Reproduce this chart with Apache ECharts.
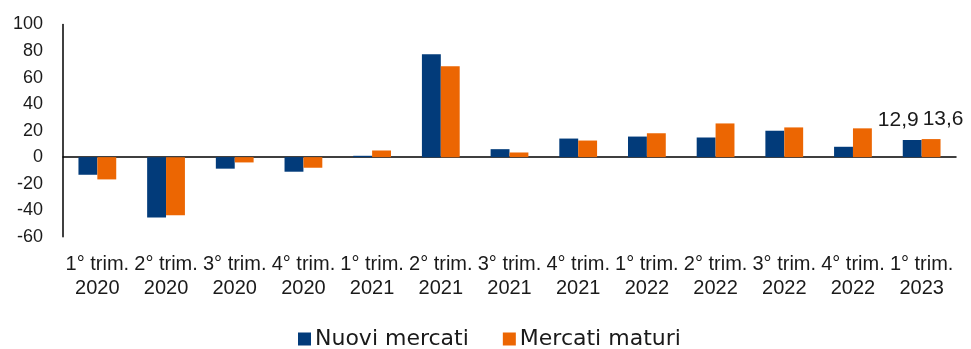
<!DOCTYPE html>
<html>
<head>
<meta charset="utf-8">
<script src="https://cdn.jsdelivr.net/npm/echarts@6/dist/echarts.min.js"></script>
<style>
html,body{margin:0;padding:0;background:#fff;}
#chart{width:971px;height:349px;}
</style>
</head>
<body>
<div id="chart"></div>
<script>
const categories = ["1° trim.\n2020","2° trim.\n2020","3° trim.\n2020","4° trim.\n2020","1° trim.\n2021","2° trim.\n2021","3° trim.\n2021","4° trim.\n2021","1° trim.\n2022","2° trim.\n2022","3° trim.\n2022","4° trim.\n2022","1° trim.\n2023"];
const nuoviMercati = [-13.3, -45.6, -8.7, -11, 1, 77.6, 6, 14, 15.5, 14.8, 19.9, 7.8, 12.9];
const mercatiMaturi = [-16.8, -43.8, -4, -8, 5, 68.6, 3.5, 12.5, 18, 25.4, 22.4, 21.7, 13.6];
const seriesNames = ["Nuovi mercati", "Mercati maturi"];
const yTicks = {min: -60, max: 100, interval: 20};
const labelIndex = 12;

const textColor = '#1a1a1a';
function build(values, offsetX) {
  return values.map((v, i) => i === labelIndex ? {
    value: v,
    label: {
      show: true, position: 'top', distance: 9, offset: [offsetX, 0],
      fontFamily: 'Liberation Sans', fontSize: 21, color: textColor,
      formatter: p => String(p.value).replace('.', ',')
    }
  } : v);
}

const chart = echarts.init(document.getElementById('chart'));
chart.setOption({
  animation: false,
  grid: {left: 63, right: 15, top: 24.5, bottom: 112.3, containLabel: false},
  legend: {
    left: 298, top: 328, padding: 0,
    itemWidth: 13, itemHeight: 13, itemGap: 34,
    icon: 'rect',
    textStyle: {fontFamily: 'DejaVu Sans', fontSize: 22, lineHeight: 22, color: textColor, padding: [0,0,0,-1]},
    data: seriesNames
  },
  xAxis: [{
    type: 'category', data: categories, position: 'bottom',
    axisLine: {show: true, onZero: true, lineStyle: {color: '#000', width: 1.5}},
    axisTick: {show: false}, axisLabel: {show: false}, splitLine: {show: false}
  }, {
    type: 'category', data: categories, position: 'bottom',
    axisLine: {show: false}, axisTick: {show: false},
    axisLabel: {show: true, interval: 0, margin: 16, fontFamily: 'Liberation Sans', fontSize: 20, lineHeight: 24, color: textColor}
  }],
  yAxis: {
    type: 'value', min: yTicks.min, max: yTicks.max, interval: yTicks.interval,
    axisLine: {show: true, lineStyle: {color: '#000', width: 1.5}},
    axisTick: {show: false}, splitLine: {show: false},
    axisLabel: {margin: 20, fontFamily: 'Liberation Sans', fontSize: 18, color: textColor}
  },
  series: [{
    name: seriesNames[0], type: 'bar', data: build(nuoviMercati, -14),
    itemStyle: {color: '#023b7a'}, barGap: '0%', barCategoryGap: '45%'
  }, {
    name: seriesNames[1], type: 'bar', data: build(mercatiMaturi, 12),
    itemStyle: {color: '#ec6602'}, barGap: '0%', barCategoryGap: '45%'
  }]
});
</script>
</body>
</html>
